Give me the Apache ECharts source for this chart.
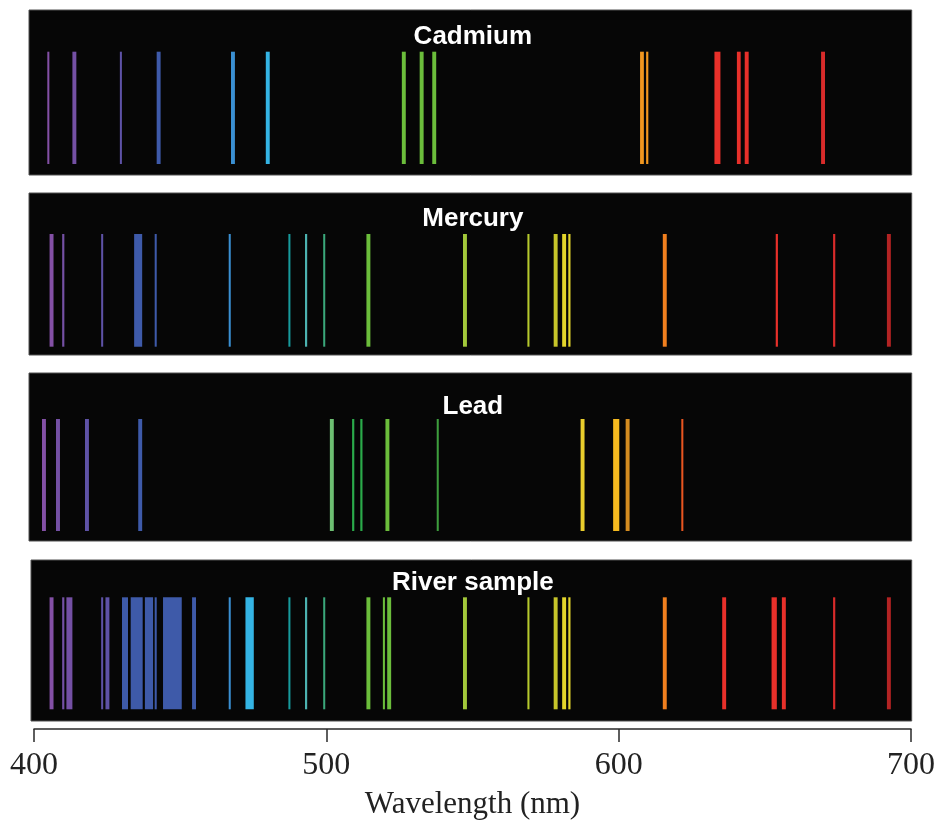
<!DOCTYPE html>
<html>
<head>
<meta charset="utf-8">
<script src="https://cdn.jsdelivr.net/npm/echarts@6/dist/echarts.min.js"></script>
<style>
html,body{margin:0;padding:0;background:#fff;}
#chart{width:938px;height:821px;}
</style>
</head>
<body>
<div id="chart"></div>
<script>
// ---- DATA: emission lines, each [wavelength nm, line width nm] ----
const panelNames = ['Cadmium', 'Mercury', 'Lead', 'River sample'];

const cadmium = [
  [404.9, 0.7], [413.8, 1.35], [429.7, 0.7], [442.6, 1.35], [468.0, 1.35],
  [479.9, 1.35], [526.4, 1.35], [532.5, 1.35], [536.8, 1.35], [607.8, 1.3],
  [609.6, 0.75], [633.6, 2.05], [640.9, 1.3], [643.6, 1.35], [669.7, 1.35]
];

const mercury = [
  [406.0, 1.35], [410.0, 0.75], [423.3, 0.7], [435.6, 2.75], [441.6, 0.7],
  [466.9, 0.7], [487.3, 0.7], [493.0, 0.75], [499.2, 0.7], [514.3, 1.35],
  [547.3, 1.35], [569.0, 0.7], [578.3, 1.35], [581.2, 1.35], [583.0, 0.75],
  [615.6, 1.35], [653.9, 0.75], [673.5, 0.75], [692.2, 1.35]
];

const lead = [
  [403.4, 1.35], [408.2, 1.35], [418.1, 1.35], [436.3, 1.35], [501.8, 1.35],
  [509.1, 0.75], [511.9, 0.75], [520.8, 1.35], [538.0, 0.7], [587.5, 1.35],
  [599.0, 2.1], [602.9, 1.35], [621.6, 0.7]
];

const river = [
  [406.0, 1.35], [410.0, 0.75], [412.1, 2.05], [423.3, 0.7], [425.1, 1.35],
  [431.1, 2.05], [435.1, 4.1], [439.3, 2.8], [441.6, 0.7], [447.3, 6.4],
  [454.7, 1.35], [466.9, 0.7], [473.7, 2.85], [487.3, 0.7], [493.0, 0.75],
  [499.2, 0.7], [514.3, 1.35], [519.6, 0.7], [521.4, 1.35], [547.3, 1.35],
  [569.0, 0.7], [578.3, 1.35], [581.2, 1.35], [583.0, 0.75], [615.6, 1.35],
  [635.9, 1.35], [653.0, 1.8], [656.3, 1.35], [673.5, 0.75], [692.2, 1.35]
];

const xTicks = [400, 500, 600, 700];
const axisTitle = 'Wavelength (nm)';

// ---- STYLE / LAYOUT ----
const panelData = [cadmium, mercury, lead, river];
// pixel layout of each black panel (box top/height/left, line inset top/bottom, title top)
const layout = [
  { top: 10,  height: 165, left: 29, lineTop: 41.7, lineBottom: 11,   titleTop: 24 },
  { top: 193, height: 162, left: 29, lineTop: 41,   lineBottom: 8.3,  titleTop: 206 },
  { top: 373, height: 168, left: 29, lineTop: 46,   lineBottom: 10,   titleTop: 394 },
  { top: 560, height: 161, left: 31, lineTop: 37.3, lineBottom: 11.7, titleTop: 570 }
];
const AXIS_LEFT = 34, AXIS_RIGHT_EDGE = 911.7, W = 938;
const PX_PER_NM = (AXIS_RIGHT_EDGE - AXIS_LEFT) / (xTicks[xTicks.length-1] - xTicks[0]);

// colour of spectral lines by wavelength (upper bound nm, colour)
const colourBands = [
  [407, '#8350a5'], [415, '#7450a4'], [430.5, '#5e52a6'], [460, '#3e5aa9'],
  [471, '#3a8fd2'], [483, '#34b4e4'], [490, '#179a9c'], [496, '#4cb2b0'],
  [500.5, '#3aa77a'], [505, '#6dbf72'], [513, '#2aaa4a'], [537.5, '#6bbd3b'],
  [540, '#3d9d3d'], [560, '#a2c83a'], [575, '#b5c92d'], [580, '#c7c52a'],
  [585, '#e3d52b'], [590, '#e9cd2c'], [601, '#f6ba1f'], [605, '#d48c20'],
  [612, '#f0961f'], [619, '#f07f1e'], [628, '#e85520'], [660, '#e8302a'],
  [680, '#d72b2a'], [701, '#b22323']
];
function colourFor(nm) {
  for (const [ub, c] of colourBands) if (nm < ub) return c;
  return colourBands[colourBands.length - 1][1];
}

const chart = echarts.init(document.getElementById('chart'), null, { renderer: 'canvas' });

const grids = [], xAxes = [], yAxes = [], series = [], titles = [];
layout.forEach((L, i) => {
  grids.push({
    left: L.left, right: W - AXIS_RIGHT_EDGE, top: L.top, height: L.height,
    show: true, backgroundColor: '#060606', borderColor: '#505050', borderWidth: 1
  });
  xAxes.push({
    gridIndex: i, type: 'value',
    min: xTicks[0] - (AXIS_LEFT - L.left) / PX_PER_NM, max: xTicks[xTicks.length-1],
    show: false
  });
  yAxes.push({ gridIndex: i, type: 'value', min: 0, max: 1, show: false });
  titles.push({
    text: panelNames[i], left: (AXIS_LEFT + AXIS_RIGHT_EDGE) / 2, textAlign: 'center',
    top: L.titleTop, padding: 0,
    textStyle: { color: '#ffffff', fontSize: 26, fontWeight: 'bold', fontFamily: 'Liberation Sans, Arial, sans-serif' }
  });
  series.push({
    type: 'custom', xAxisIndex: i, yAxisIndex: i, clip: false,
    data: panelData[i],
    encode: { x: 0 },
    renderItem: function (params, api) {
      const nm = api.value(0), w = api.value(1);
      const cs = params.coordSys;
      const a = api.coord([nm - w / 2, 0]);
      const b = api.coord([nm + w / 2, 0]);
      const col = colourFor(nm);
      return {
        type: 'rect',
        shape: { x: a[0], y: cs.y + L.lineTop, width: Math.max(1, b[0] - a[0]), height: cs.height - L.lineTop - L.lineBottom },
        style: { fill: col }
      };
    }
  });
});

// bottom wavelength axis
grids.push({ left: AXIS_LEFT, right: W - AXIS_RIGHT_EDGE, top: 700, height: 29.3, show: false });
xAxes.push({
  gridIndex: 4, type: 'value', min: xTicks[0], max: xTicks[xTicks.length-1], interval: 100,
  position: 'bottom',
  axisLine: { show: true, lineStyle: { color: '#2a2a2a', width: 1.5 } },
  axisTick: { show: true, length: 13, lineStyle: { color: '#2a2a2a', width: 1.5 } },
  splitLine: { show: false },
  axisLabel: { margin: 21, color: '#222', fontSize: 32, fontFamily: 'Liberation Serif, Times New Roman, serif',
               formatter: v => xTicks.includes(v) ? String(v) : '' },
  name: axisTitle, nameLocation: 'middle', nameGap: 60,
  nameTextStyle: { color: '#222', fontSize: 31, fontFamily: 'Liberation Serif, Times New Roman, serif' }
});
yAxes.push({ gridIndex: 4, type: 'value', min: 0, max: 1, show: false });

chart.setOption({
  animation: false,
  backgroundColor: '#ffffff',
  title: titles,
  grid: grids,
  xAxis: xAxes,
  yAxis: yAxes,
  series: series
});
</script>
</body>
</html>
